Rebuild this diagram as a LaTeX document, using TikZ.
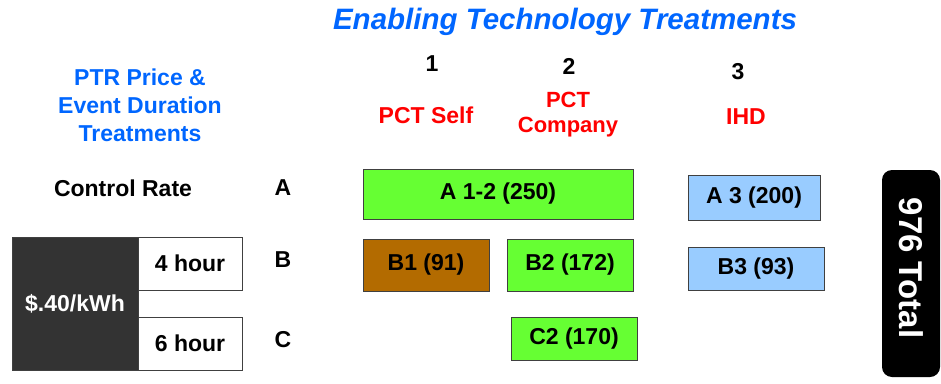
\documentclass[tikz,border=0pt]{standalone}
\usepackage{fontspec}
\setmainfont{Liberation Sans}
\definecolor{ptrblue}{RGB}{0,102,255}
\definecolor{pctred}{RGB}{255,0,0}
\definecolor{cellgreen}{RGB}{102,255,51}
\definecolor{cellblue}{RGB}{153,204,255}
\definecolor{cellbrown}{RGB}{179,107,0}
\definecolor{ratedark}{RGB}{51,51,51}
\tikzset{
  lbl/.style={font=\fontsize{23}{28}\selectfont\bfseries, inner sep=0pt, align=center},
  cell/.style={lbl, draw=black!75, line width=0.8pt},
  grncell/.style={cell, fill=cellgreen},
  blucell/.style={cell, fill=cellblue},
}
\begin{document}
\begin{tikzpicture}[x=1pt, y=-1pt]
 \useasboundingbox (0,0) rectangle (941,383);

 % Titel
 \node[lbl, text=ptrblue, font=\fontsize{29.5}{32}\selectfont\bfseries\itshape] (title) at (565,22) {Enabling Technology Treatments};
 \node[lbl, text=ptrblue] (ptrhead) at (140,105) {PTR Price \&\\Event Duration\\Treatments};

 % Spaltenkoepfe
 \node[lbl] (col1) at (432,64) {1};
 \node[lbl] (col2) at (569,66) {2};
 \node[lbl] (col3) at (738,72) {3};
 \node[lbl, text=pctred] (pctself) at (426,115) {PCT Self};
 \node[lbl, text=pctred, font=\fontsize{22}{25}\selectfont\bfseries] (pctcomp) at (568,115) {PCT\\Company};
 \node[lbl, text=pctred] (ihd) at (746,117) {IHD};

 % Zeilen
 \node[lbl] (ctrl) at (123,188) {Control Rate};
 \node[lbl] (rowA) at (283,188) {A};
 \node[lbl] (rowB) at (283,260) {B};
 \node[lbl] (rowC) at (283,340) {C};

 % Preis und Dauer
 \node[cell, fill=ratedark, text=white, minimum width=126, minimum height=133] (price) at (75,303.5) {\$.40/kWh};
 \node[cell, fill=white, minimum width=104, minimum height=53] (hour4) at (190,263.5) {4 hour};
 \node[cell, fill=white, minimum width=104, minimum height=53] (hour6) at (190,343.5) {6 hour};

 % Behandlungsgruppen
 \node[grncell, minimum width=270, minimum height=50] (a12) at (498,194) {A 1-2 (250)};
 \node[blucell, minimum width=132, minimum height=45] (a3) at (754,197.5) {A 3 (200)};
 \node[cell, fill=cellbrown, minimum width=126, minimum height=52] (b1) at (426,265) {B1 (91)};
 \node[grncell, minimum width=126, minimum height=52] (b2) at (570,265) {B2 (172)};
 \node[blucell, minimum width=136, minimum height=43] (b3) at (756,268.5) {B3 (93)};
 \node[grncell, minimum width=126, minimum height=43] (c2) at (574,338.5) {C2 (170)};

 % Summe
 \node[lbl, fill=black, rounded corners=10pt, minimum width=58, minimum height=207] (total) at (911,273.5) {};
 \node[lbl, text=white, rotate=-90, font=\fontsize{33}{36}\selectfont\bfseries] (totaltxt) at (911,268) {976 Total};
\end{tikzpicture}
\end{document}
